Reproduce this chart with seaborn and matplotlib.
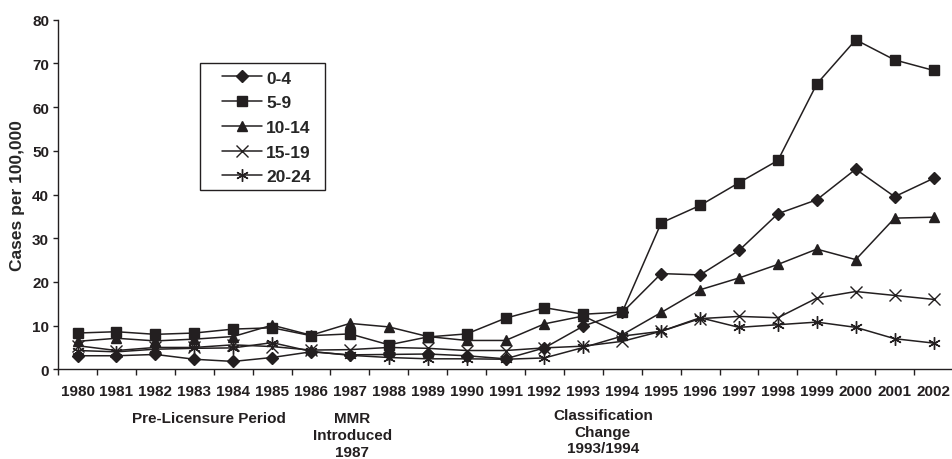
import pandas as pd
import matplotlib
matplotlib.use("Agg")
import matplotlib.pyplot as plt
from matplotlib.patches import Rectangle
import seaborn as sns

# --- DATA ---
years = [str(y) for y in range(1980, 2003)]
age_groups = ["0-4", "5-9", "10-14", "15-19", "20-24"]
cases_0_4 = [3.1, 3.1, 3.4, 2.3, 1.8, 2.7, 4.0, 3.3, 3.4, 3.5, 3.1, 2.4, 4.9,
             9.9, 13.0, 21.9, 21.6, 27.2, 35.6, 38.8, 45.8, 39.5, 43.7]
cases_5_9 = [8.3, 8.6, 8.0, 8.3, 9.2, 9.5, 7.7, 8.1, 5.6, 7.4, 8.1, 11.7, 14.1,
             12.6, 13.1, 33.5, 37.5, 42.7, 47.8, 65.3, 75.4, 70.8, 68.4]
cases_10_14 = [6.4, 7.1, 6.5, 6.9, 7.5, 10.1, 7.8, 10.5, 9.7, 7.5, 6.6, 6.6, 10.4,
               12.2, 7.9, 13.0, 18.2, 20.9, 24.0, 27.5, 25.1, 34.6, 34.8]
cases_15_19 = [5.4, 4.3, 5.0, 5.0, 5.6, 5.2, 4.4, 4.5, 5.0, 4.8, 4.3, 4.3, 4.9,
               5.3, 6.4, 8.7, 11.6, 12.1, 11.8, 16.3, 17.8, 16.9, 16.0]
cases_20_24 = [4.3, 4.0, 4.6, 4.8, 4.9, 6.1, 4.1, 3.2, 2.7, 2.4, 2.4, 2.3, 2.6,
               5.0, 7.6, 8.7, 11.8, 9.6, 10.2, 10.8, 9.6, 7.0, 6.0]
y_ticks = [0, 10, 20, 30, 40, 50, 60, 70, 80]

series = [cases_0_4, cases_5_9, cases_10_14, cases_15_19, cases_20_24]

# --- STYLE ---
sns.set_style("white")
plt.rcParams["font.family"] = ["Liberation Sans", "DejaVu Sans"]
plt.rcParams["font.weight"] = "bold"
INK = "#231f20"

fig = plt.figure(figsize=(9.53, 4.6), dpi=100)
ax = fig.add_axes([0.061, 0.195, 0.939, 0.76])

markers = {"0-4": "D", "5-9": "s", "10-14": "^", "15-19": "x", "20-24": (6, 2, 0)}
sizes = {"0-4": 6, "5-9": 6.5, "10-14": 7.5, "15-19": 8, "20-24": 9}
# one call per series: seaborn won't mix filled and line markers in a single style map
for grp, vals in zip(age_groups, series):
    d = pd.DataFrame({"Year": years, "Cases": vals})
    sns.lineplot(data=d, x="Year", y="Cases", color=INK, marker=markers[grp],
                 markersize=sizes[grp], markeredgecolor=INK, markeredgewidth=1.0,
                 linewidth=1.1, sort=False, label=grp, ax=ax)

# axes
ax.set_xlim(-0.5, len(years) - 0.5)
ax.set_ylim(0, 80)
ax.set_yticks(y_ticks)
ax.set_xlabel("")
ax.set_ylabel("Cases per 100,000", fontsize=12.5, fontweight="bold", labelpad=5)
sns.despine(ax=ax)
for s in ["left", "bottom"]:
    ax.spines[s].set_color(INK)
    ax.spines[s].set_linewidth(1.0)
ax.set_xticks(range(len(years)))
ax.set_xticklabels(years)
ax.set_xticks([i - 0.5 for i in range(len(years) + 1)], minor=True)
ax.tick_params(axis="x", which="major", length=0, pad=10.5, labelsize=11, colors=INK)
ax.tick_params(axis="x", which="minor", direction="out", length=4.5, width=1, color=INK, bottom=True)
ax.tick_params(axis="y", direction="out", length=3.5, width=1, pad=3, labelsize=11,
               colors=INK, left=True)

# legend: unframed entries inside a hand-placed box (Excel-style wide side padding)
handles, labels = ax.get_legend_handles_labels()
leg = ax.legend(handles, labels, loc="upper left", bbox_to_anchor=(0.183, 0.855),
                frameon=False, fontsize=12.5, handlelength=2.3, handletextpad=0.25,
                labelspacing=0.55, borderpad=0, borderaxespad=0)
for t in leg.get_texts():
    t.set_fontweight("bold")
ax.add_patch(Rectangle((0.1586, 0.513), 0.1396, 0.363, transform=ax.transAxes,
                       fill=False, edgecolor=INK, linewidth=1.0, clip_on=False))

# period annotations under the axis
tr = ax.get_xaxis_transform()
ax.text(3.37, -0.12, "Pre-Licensure Period", transform=tr, ha="center", va="top",
        fontsize=11, fontweight="bold", color=INK)
ax.text(7.06, -0.12, "MMR\nIntroduced\n1987", transform=tr, ha="center", va="top",
        fontsize=11, fontweight="bold", color=INK, linespacing=1.25)
ax.text(13.5, -0.11, "Classification\nChange\n1993/1994", transform=tr, ha="center",
        va="top", fontsize=11, fontweight="bold", color=INK, linespacing=1.25)

plt.savefig("out.png", dpi=100, facecolor="white")
plt.close()
